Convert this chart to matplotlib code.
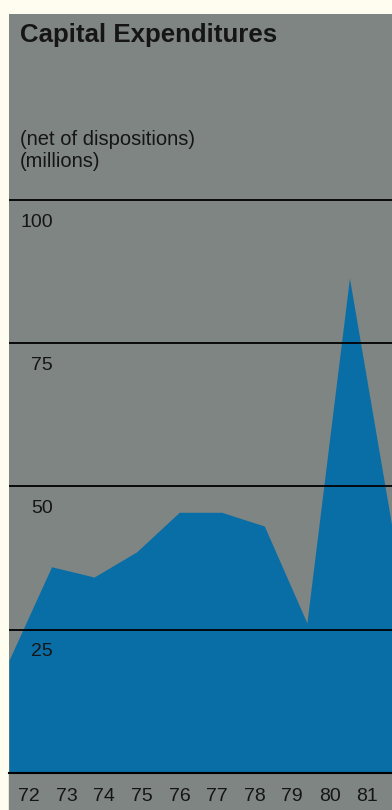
import numpy as np
import matplotlib
matplotlib.use("Agg")
import matplotlib.pyplot as plt

plt.rcParams["font.family"] = ["Liberation Sans", "DejaVu Sans"]

# capital expenditures, net of dispositions ($ millions)
years = ["72", "73", "74", "75", "76", "77", "78", "79", "80", "81"]
capex = [19.7, 36.0, 34.2, 38.6, 45.5, 45.5, 43.1, 26.2, 86.4, 42.9]
grid_vals = [25, 50, 75, 100]

CREAM = "#fffdf0"
GRAY = "#7f8583"
BLUE = "#0a6ea6"
INK = "#151515"

W, H = 392, 810
fig = plt.figure(figsize=(W / 100, H / 100), dpi=100, facecolor=CREAM)

# plot panel in pixel terms: x 9..392, baseline y=773, panel top y=14
x0, x1, y_base, y_top = 9, 392, 773, 14
ax = fig.add_axes([x0 / W, (H - y_base) / H, (x1 - x0) / W, (y_base - y_top) / H])
ax.set_facecolor(GRAY)
px_per_unit = 5.73
ax.set_ylim(0, (y_base - y_top) / px_per_unit)
xs = np.arange(len(capex))
ax.set_xlim(0, len(capex) - 1)
ax.fill_between(xs, 0, capex, color=BLUE, lw=0, zorder=1)

for v in grid_vals:
    ax.axhline(v, color="black", lw=1.3, zorder=2)
    ax.annotate(str(v), xy=((53 - x0) / (x1 - x0), v), xycoords=ax.get_yaxis_transform(),
                xytext=(0, -16), textcoords="offset points", ha="right", va="center",
                fontsize=14, color=INK, zorder=3)

for s in ["top", "left", "right"]:
    ax.spines[s].set_visible(False)
ax.spines["bottom"].set_color("black")
ax.spines["bottom"].set_linewidth(1.5)
ax.set_yticks([])
ax.set_xticks([])

# year labels sit on their own evenly spaced scale below the baseline
ax2 = ax.twiny()
ax2.set_xlim(-0.533, 9.653)
ax2.xaxis.set_ticks_position("bottom")
ax2.xaxis.set_label_position("bottom")
ax2.set_xticks(range(len(years)))
ax2.set_xticklabels(years, fontsize=14, color=INK)
ax2.tick_params(axis="x", length=0, pad=11)
for s in ax2.spines.values():
    s.set_visible(False)

# gray panel continues below the axes
fig.patches.append(plt.Rectangle((x0 / W, 0), (x1 - x0) / W, (H - y_base) / H,
                                 transform=fig.transFigure, color=GRAY, zorder=-1))

ax.text(11 / (x1 - x0), 1 - 9 / (y_base - y_top), "Capital Expenditures", transform=ax.transAxes,
        fontsize=18.6, fontweight="bold", color=INK, ha="left", va="top")
ax.text(11 / (x1 - x0), 1 - 116 / (y_base - y_top), "(net of dispositions)\n(millions)",
        transform=ax.transAxes, fontsize=14.5, color=INK, ha="left", va="top", linespacing=1.2)

fig.savefig("out.png", dpi=100, facecolor=CREAM)
